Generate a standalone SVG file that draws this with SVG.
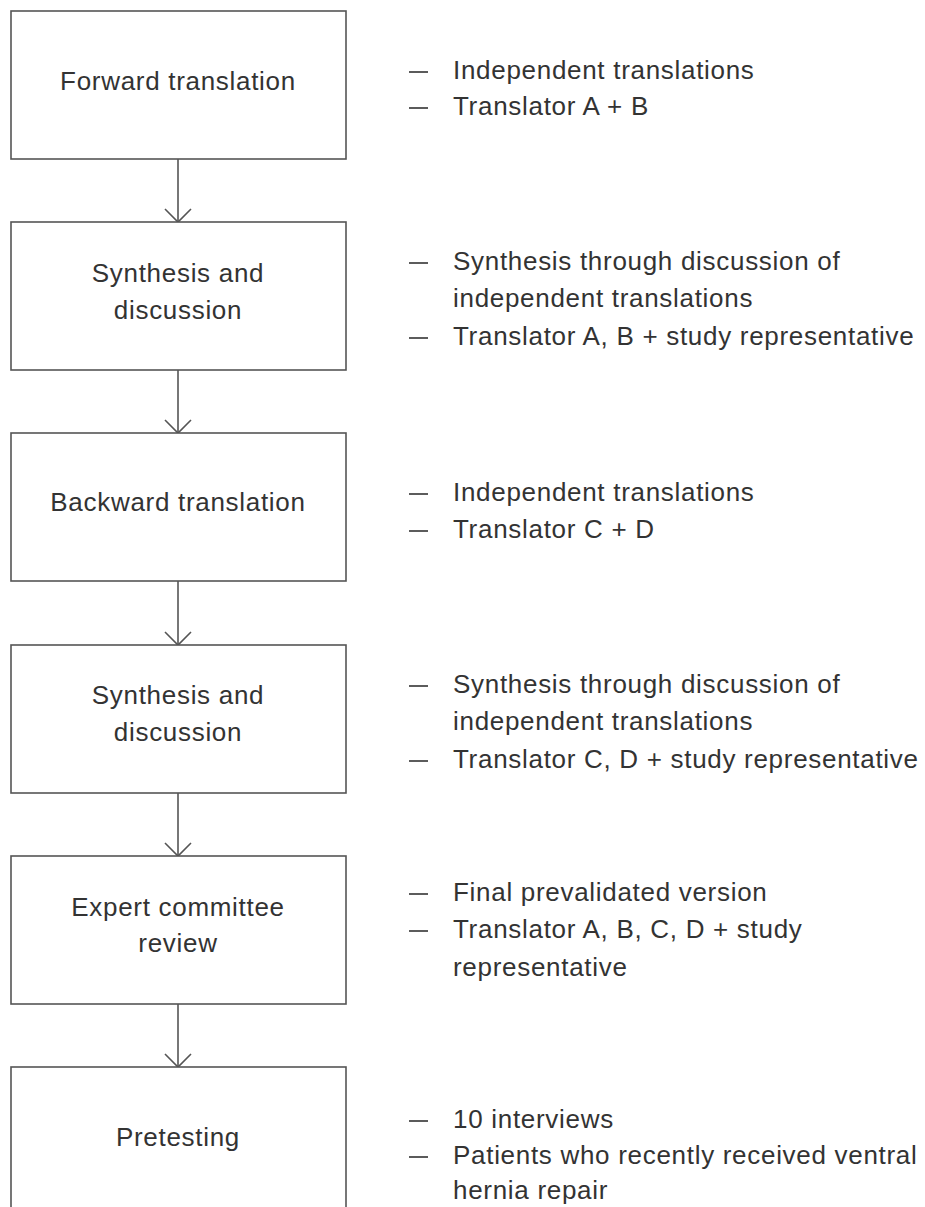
<svg xmlns="http://www.w3.org/2000/svg" width="925" height="1207" viewBox="0 0 925 1207">
<style>
.box{fill:#fff;stroke:#555;stroke-width:1.6}
.lbl{font-family:"Liberation Sans",Arial,sans-serif;font-size:26px;fill:#333;letter-spacing:0.7px}
.c{text-anchor:middle}
.conn{stroke:#555;stroke-width:1.6;fill:none}
.dash{stroke:#333;stroke-width:1.6}
</style>
<defs>
<marker id="ah" viewBox="-14 -14 16 28" refX="0" refY="0" markerWidth="16" markerHeight="28" markerUnits="userSpaceOnUse" orient="auto">
<path d="M-13,-13 L0,0 L-13,13" fill="none" stroke="#555" stroke-width="1.6"/>
</marker>
</defs>
<rect width="925" height="1207" fill="#fff"/>
<g id="connectors">
<line class="conn" x1="178" y1="159" x2="178" y2="222" marker-end="url(#ah)"/>
<line class="conn" x1="178" y1="370" x2="178" y2="433" marker-end="url(#ah)"/>
<line class="conn" x1="178" y1="581" x2="178" y2="645" marker-end="url(#ah)"/>
<line class="conn" x1="178" y1="793" x2="178" y2="856" marker-end="url(#ah)"/>
<line class="conn" x1="178" y1="1004" x2="178" y2="1067" marker-end="url(#ah)"/>
</g>
<g id="n1">
<rect class="box" x="11" y="11" width="335" height="148"/>
<text class="lbl c" x="178" y="90">Forward translation</text>
<line class="dash" x1="409" y1="72" x2="428" y2="72"/>
<line class="dash" x1="409" y1="108" x2="428" y2="108"/>
<text class="lbl" x="453" y="79">Independent translations</text>
<text class="lbl" x="453" y="115">Translator A + B</text>
</g>
<g id="n2">
<rect class="box" x="11" y="222" width="335" height="148"/>
<text class="lbl c" x="178" y="282">Synthesis and</text>
<text class="lbl c" x="178" y="319">discussion</text>
<line class="dash" x1="409" y1="263" x2="428" y2="263"/>
<line class="dash" x1="409" y1="338" x2="428" y2="338"/>
<text class="lbl" x="453" y="270">Synthesis through discussion of</text>
<text class="lbl" x="453" y="307">independent translations</text>
<text class="lbl" x="453" y="345">Translator A, B + study representative</text>
</g>
<g id="n3">
<rect class="box" x="11" y="433" width="335" height="148"/>
<text class="lbl c" x="178" y="511">Backward translation</text>
<line class="dash" x1="409" y1="494" x2="428" y2="494"/>
<line class="dash" x1="409" y1="531" x2="428" y2="531"/>
<text class="lbl" x="453" y="501">Independent translations</text>
<text class="lbl" x="453" y="538">Translator C + D</text>
</g>
<g id="n4">
<rect class="box" x="11" y="645" width="335" height="148"/>
<text class="lbl c" x="178" y="704">Synthesis and</text>
<text class="lbl c" x="178" y="741">discussion</text>
<line class="dash" x1="409" y1="686" x2="428" y2="686"/>
<line class="dash" x1="409" y1="761" x2="428" y2="761"/>
<text class="lbl" x="453" y="693">Synthesis through discussion of</text>
<text class="lbl" x="453" y="730">independent translations</text>
<text class="lbl" x="453" y="768">Translator C, D + study representative</text>
</g>
<g id="n5">
<rect class="box" x="11" y="856" width="335" height="148"/>
<text class="lbl c" x="178" y="916">Expert committee</text>
<text class="lbl c" x="178" y="952">review</text>
<line class="dash" x1="409" y1="894" x2="428" y2="894"/>
<line class="dash" x1="409" y1="931" x2="428" y2="931"/>
<text class="lbl" x="453" y="901">Final prevalidated version</text>
<text class="lbl" x="453" y="938">Translator A, B, C, D + study</text>
<text class="lbl" x="453" y="976">representative</text>
</g>
<g id="n6">
<rect class="box" x="11" y="1067" width="335" height="148"/>
<text class="lbl c" x="178" y="1146">Pretesting</text>
<line class="dash" x1="409" y1="1121" x2="428" y2="1121"/>
<line class="dash" x1="409" y1="1157" x2="428" y2="1157"/>
<text class="lbl" x="453" y="1128">10 interviews</text>
<text class="lbl" x="453" y="1164">Patients who recently received ventral</text>
<text class="lbl" x="453" y="1199">hernia repair</text>
</g>
</svg>
